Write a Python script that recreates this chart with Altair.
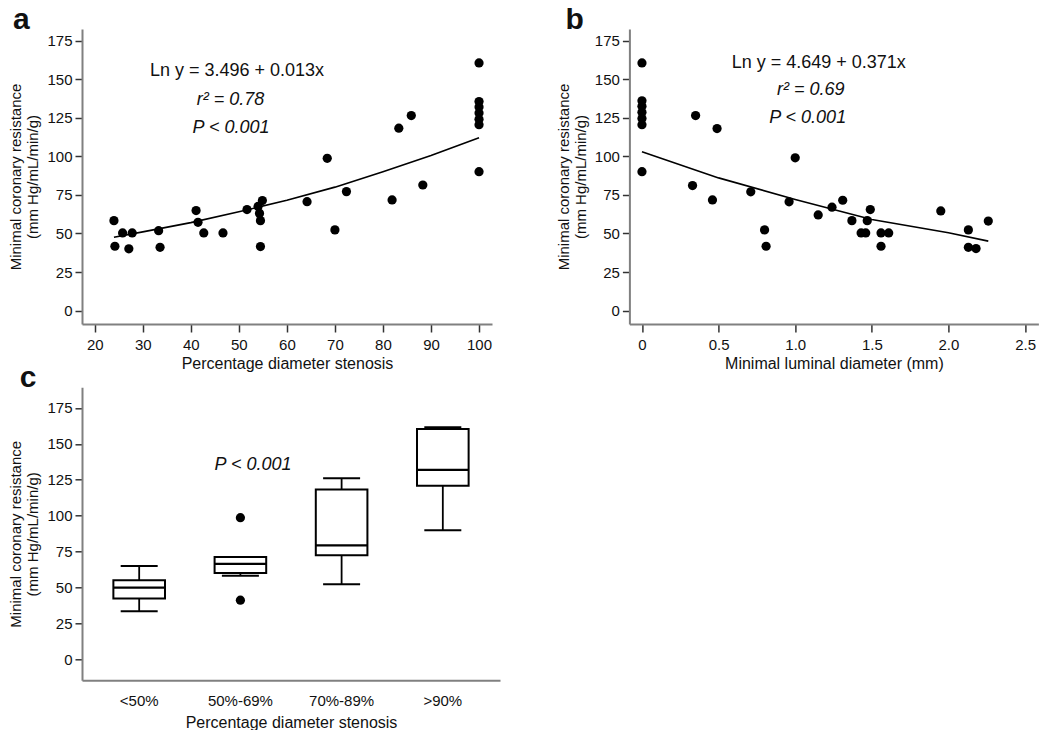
import altair as alt
import pandas as pd

FONT = "Liberation Sans"

# ---------------- Panel a data: % diameter stenosis vs resistance ----------------
a_stenosis = [24.0, 24.2, 25.8, 27.1, 27.8, 33.3, 33.6, 41.1, 41.5, 42.7, 46.7,
              51.7, 54.9, 54.0, 54.3, 54.5, 54.5, 64.2, 68.4, 70.0, 72.4, 81.9,
              83.3, 85.9, 88.3, 100, 100, 100, 100, 100, 100, 100]
a_resistance = [58.3, 41.7, 50.3, 40.0, 50.3, 51.8, 41.0, 64.8, 57.2, 50.3, 50.3,
                65.5, 71.3, 67.5, 63.0, 58.3, 41.5, 70.6, 98.7, 52.3, 77.1, 71.7,
                118.2, 126.4, 81.4, 160.5, 135.5, 132.0, 128.0, 124.0, 120.5, 90.0]
a_fit_x = [24, 30, 40, 50, 60, 70, 80, 90, 100]
a_fit_y = [47.5, 51, 57, 64, 71.5, 80, 90, 100.5, 112]

# ---------------- Panel b data: minimal luminal diameter vs resistance ----------------
b_mld = [0, 0, 0, 0, 0, 0, 0, 0.33, 0.35, 0.46, 0.49, 0.71, 0.80, 0.81, 0.96, 1.00,
         1.15, 1.24, 1.31, 1.37, 1.43, 1.46, 1.47, 1.49, 1.56, 1.56, 1.61, 1.95,
         2.13, 2.13, 2.18, 2.26]
b_resistance = [160.5, 136.0, 132.5, 128.5, 124.5, 120.5, 90.0, 81.0, 126.4, 71.7,
                118.0, 77.0, 52.3, 41.7, 70.5, 99.0, 62.0, 67.0, 71.5, 58.3, 50.3,
                50.3, 58.3, 65.5, 50.3, 41.7, 50.3, 64.6, 52.3, 41.0, 40.2, 58.0]
b_fit_x = [0, 0.5, 1.0, 1.5, 2.0, 2.26]
b_fit_y = [103, 86, 72, 59, 50.5, 45]

# ---------------- Panel c data: box plot summaries ----------------
c_groups = ["<50%", "50%-69%", "70%-89%", ">90%"]
c_low = [33.4, 58.0, 52.2, 89.7]
c_q1 = [42.2, 60.0, 72.3, 120.8]
c_median = [49.8, 66.3, 79.3, 131.9]
c_q3 = [54.9, 71.2, 118.2, 160.4]
c_high = [64.9, 71.2, 126.1, 161.6]
c_out_group = ["50%-69%", "50%-69%"]
c_out_value = [98.5, 41.0]

y_ticks = [0, 25, 50, 75, 100, 125, 150, 175]
y_title = ["Minimal coronary resistance", "(mm Hg/mL/min/g)"]


def y_enc(field, domain):
    return alt.Y(field, type="quantitative",
                 scale=alt.Scale(domain=domain, nice=False, zero=False),
                 axis=alt.Axis(values=y_ticks, title=y_title, tickSize=7,
                               labelPadding=3, titlePadding=6,
                               titleFontSize=15, titleLineHeight=17))


def note(text, x, y, italic=False, size=18, bold=False, align="center", baseline="middle"):
    kw = dict(font=FONT, fontSize=size, align=align, baseline=baseline, color="#111")
    if italic:
        kw["fontStyle"] = "italic"
    if bold:
        kw["fontWeight"] = "bold"
    return alt.Chart(pd.DataFrame({"t": [text]})).mark_text(**kw).encode(
        x=alt.value(x), y=alt.value(y), text="t:N")


# ---------------- Panel a ----------------
a_df = pd.DataFrame({"x": a_stenosis, "y": a_resistance})
a_fit = pd.DataFrame({"x": a_fit_x, "y": a_fit_y})
xa = alt.X("x", type="quantitative",
           scale=alt.Scale(domain=[17.35, 102.7], nice=False, zero=False),
           axis=alt.Axis(values=[20, 30, 40, 50, 60, 70, 80, 90, 100],
                         title="Percentage diameter stenosis", tickSize=8,
                         labelPadding=5, titlePadding=3))
ya = y_enc("y", [-8.7, 182.5])
a_pts = alt.Chart(a_df).mark_circle(size=85, color="black", opacity=1).encode(x=xa, y=ya)
a_line = alt.Chart(a_fit).mark_line(color="black", strokeWidth=1.6).encode(x=xa, y=ya)
panel_a = alt.layer(
    a_line, a_pts,
    note("Ln y = 3.496 + 0.013x", 155, 41.6),
    note("r² = 0.78", 148.5, 70.6, italic=True),
    note("P < 0.001", 149, 99.3, italic=True),
    note("a", -69, 0, size=30, bold=True, align="left", baseline="alphabetic"),
).properties(width=410, height=295)

# ---------------- Panel b ----------------
b_df = pd.DataFrame({"x": b_mld, "y": b_resistance})
b_fit = pd.DataFrame({"x": b_fit_x, "y": b_fit_y})
xb = alt.X("x", type="quantitative",
           scale=alt.Scale(domain=[-0.082, 2.587], nice=False, zero=False),
           axis=alt.Axis(values=[0, 0.5, 1.0, 1.5, 2.0, 2.5],
                         labelExpr="datum.value == 0 ? '0' : format(datum.value, '.1f')",
                         title="Minimal luminal diameter (mm)", tickSize=8,
                         labelPadding=5, titlePadding=3))
yb = y_enc("y", [-8.7, 182.5])
b_pts = alt.Chart(b_df).mark_circle(size=85, color="black", opacity=1).encode(x=xb, y=yb)
b_line = alt.Chart(b_fit).mark_line(color="black", strokeWidth=1.6).encode(x=xb, y=yb)
panel_b = alt.layer(
    b_line, b_pts,
    note("Ln y = 4.649 + 0.371x", 189.3, 34),
    note("r² = 0.69", 181.3, 60.7, italic=True),
    note("P < 0.001", 178.3, 89, italic=True),
    note("b", -64, 0, size=30, bold=True, align="left", baseline="alphabetic"),
).properties(width=409, height=295)

# ---------------- Panel c ----------------
c_df = pd.DataFrame({"g": c_groups, "lo": c_low, "q1": c_q1, "med": c_median,
                     "q3": c_q3, "hi": c_high})
c_out = pd.DataFrame({"g": c_out_group, "v": c_out_value})
xc = alt.X("g", type="nominal", sort=c_groups,
           scale=alt.Scale(domain=c_groups, paddingInner=0.49, paddingOuter=0.31),
           axis=alt.Axis(title="Percentage diameter stenosis", ticks=False,
                         labelAngle=0, labelPadding=13, titlePadding=6))
yc_dom = [-14.8, 189.4]
c_whisk = alt.Chart(c_df).mark_rule(color="black", strokeWidth=1.8, opacity=1).encode(
    x=xc, y=y_enc("lo", yc_dom), y2="hi")
c_box = alt.Chart(c_df).mark_bar(fill="white", stroke="black", strokeWidth=2,
                                 opacity=1).encode(
    x=xc, y=y_enc("q1", yc_dom), y2="q3")
c_med = alt.Chart(c_df).mark_tick(color="black", size=52, thickness=2.2, opacity=1).encode(
    x=xc, y=y_enc("med", yc_dom))
c_cap_lo = alt.Chart(c_df).mark_tick(color="black", size=37, thickness=2, opacity=1).encode(
    x=xc, y=y_enc("lo", yc_dom))
c_cap_hi = alt.Chart(c_df).mark_tick(color="black", size=37, thickness=2, opacity=1).encode(
    x=xc, y=y_enc("hi", yc_dom))
c_pts = alt.Chart(c_out).mark_circle(size=85, color="black", opacity=1).encode(
    x=xc, y=y_enc("v", yc_dom))
panel_c = alt.layer(
    c_whisk, c_cap_lo, c_cap_hi, c_box, c_med, c_pts,
    note("P < 0.001", 171, 78, italic=True),
    note("c", -62.3, 0, size=30, bold=True, align="left", baseline="alphabetic"),
).properties(width=418, height=293)

chart = alt.concat(
    panel_a, panel_b, panel_c, columns=2,
    spacing={"row": 63.3, "column": 129.4}, bounds="flush",
).properties(
    padding={"top": -3, "left": 0, "right": 0, "bottom": 0}
).configure_view(stroke=None).configure_axis(
    grid=False, domainColor="#808080", domainWidth=2, tickColor="#333333",
    tickWidth=1.5, labelFont=FONT, labelFontSize=15, labelColor="#111111",
    titleFont=FONT, titleFontSize=16, titleFontWeight="normal", titleColor="#111111",
    labelFlush=False, labelOverlap=False,
)

chart.save("out.html", embed_options={"renderer": "svg", "actions": False})
